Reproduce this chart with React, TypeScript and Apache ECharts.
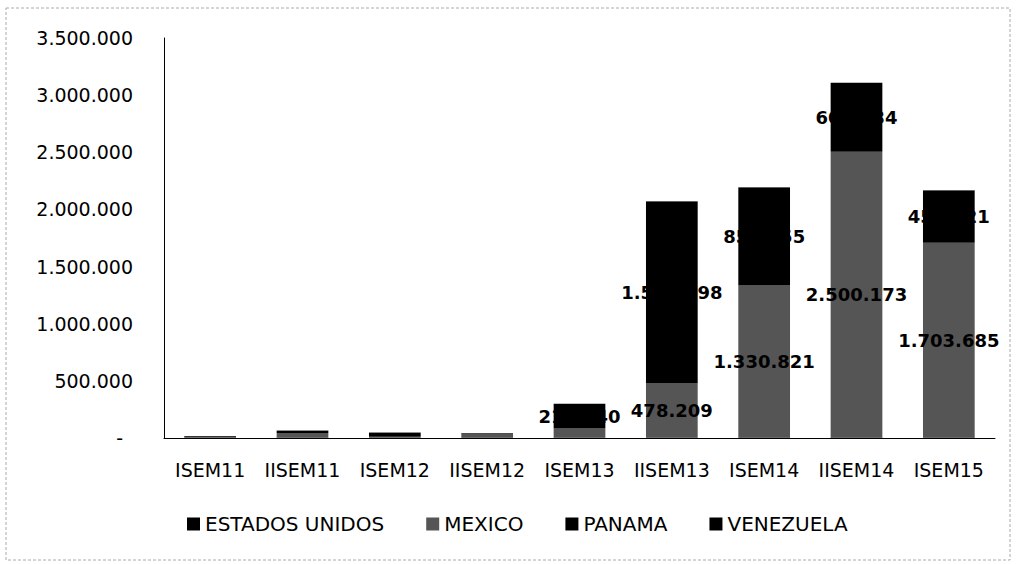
import React, { useEffect, useRef } from "react";
import * as echarts from "echarts";

const categories = ["ISEM11", "IISEM11", "ISEM12", "IISEM12", "ISEM13", "IISEM13", "ISEM14", "IISEM14", "ISEM15"];
const estadosUnidos = [2000, 3000, 2000, 2000, 3000, 3000, 4000, 5000, 4000];
const mexico = [10000, 40000, 10000, 35000, 80000, 478209, 1330821, 2500173, 1703685];
const panama = [5000, 20000, 35000, 5000, 215640, 1587898, 856455, 600434, 456421];
const venezuela = [1000, 2000, 1000, 1000, 2000, 2000, 3000, 3000, 3000];
const yTicks = { min: 0, max: 3500000, interval: 500000 };

const fmt = (v: number) => Math.round(v).toString().replace(/\B(?=(\d{3})+(?!\d))/g, ".");

export default function App() {
  const ref = useRef<HTMLDivElement>(null);
  useEffect(() => {
    if (!ref.current) return;
    const chart = echarts.init(ref.current, undefined, { renderer: "svg" });
    const font = "DejaVu Sans";
    const label = {
      show: true,
      position: "inside",
      color: "#000",
      fontFamily: font,
      fontWeight: "bold",
      fontSize: 18,
      formatter: (p: any) => (p.value >= 200000 ? fmt(p.value) : ""),
    };
    const mk = (name: string, data: number[], color: string, withLabel: boolean) => ({
      name,
      type: "bar",
      stack: "total",
      barWidth: "56%",
      data,
      itemStyle: { color },
      label: withLabel ? label : { show: false },
    });
    chart.setOption({
      animation: false,
      backgroundColor: "#fff",
      textStyle: { fontFamily: font },
      graphic: [
        {
          type: "rect",
          shape: { x: 6, y: 8, width: 1004, height: 552 },
          style: { fill: "none", stroke: "#aaa", lineWidth: 1, lineDash: [3, 2] },
          silent: true,
        },
      ],
      grid: { left: 164, right: 21, top: 38, bottom: 126 },
      legend: {
        bottom: 25,
        left: 182,
        icon: "rect",
        itemWidth: 13,
        itemHeight: 13,
        itemGap: 42,
        textStyle: { fontFamily: font, fontSize: 20, color: "#000" },
        data: ["ESTADOS UNIDOS", "MEXICO", "PANAMA", "VENEZUELA"],
      },
      xAxis: {
        type: "category",
        data: categories,
        axisLine: { lineStyle: { color: "#000", width: 1 } },
        axisTick: { show: false },
        axisLabel: { color: "#000", fontFamily: font, fontSize: 19, margin: 22, interval: 0 },
      },
      yAxis: {
        type: "value",
        min: yTicks.min,
        max: yTicks.max,
        interval: yTicks.interval,
        splitLine: { show: false },
        axisLine: { show: true, lineStyle: { color: "#000", width: 1 } },
        axisTick: { show: false },
        axisLabel: {
          color: "#000",
          fontFamily: font,
          fontSize: 19,
          margin: 31,
          formatter: (v: number) => (v === 0 ? "{z|-}" : fmt(v)),
          rich: { z: { fontFamily: font, fontSize: 19, color: "#000", padding: [0, 10, 0, 0] } },
        },
      },
      series: [
        mk("ESTADOS UNIDOS", estadosUnidos, "#000", false),
        mk("MEXICO", mexico, "#555555", true),
        mk("PANAMA", panama, "#000", true),
        mk("VENEZUELA", venezuela, "#000", false),
      ],
    });
    return () => chart.dispose();
  }, []);
  return <div ref={ref} style={{ position: "fixed", left: 0, top: 0, width: 1016, height: 564 }} />;
}
